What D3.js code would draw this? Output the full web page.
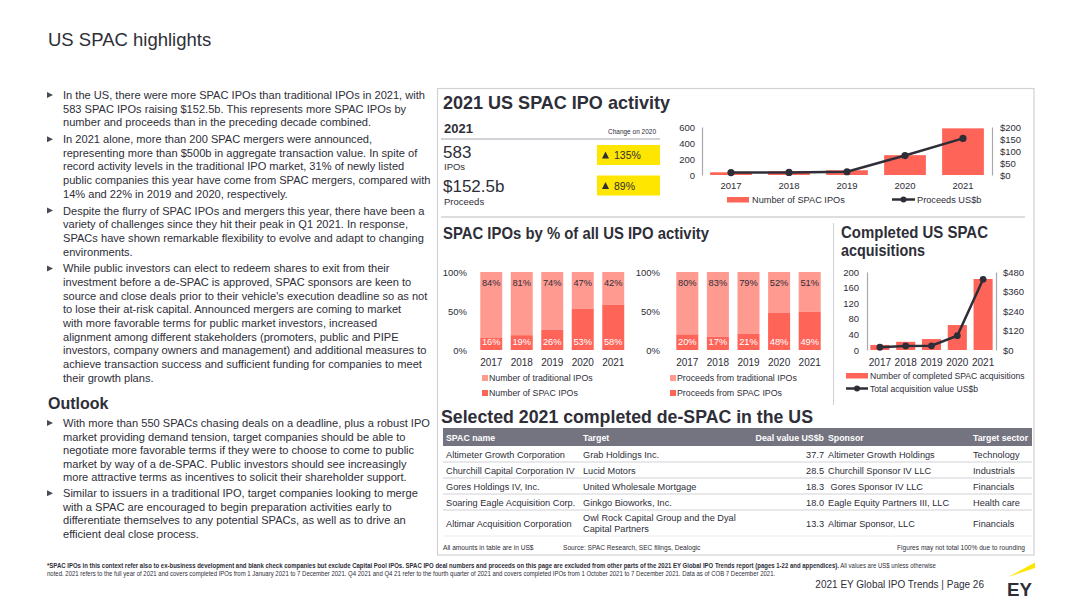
<!DOCTYPE html>
<html><head><meta charset="utf-8">
<script src="https://cdn.jsdelivr.net/npm/d3@7"></script>
<style>
html,body{margin:0;padding:0;background:#fff;}
svg{display:block;font-family:Arial,"Liberation Sans",Helvetica,sans-serif;}
</style></head><body>
<svg id="c" width="1080" height="608"></svg>
<script>
// ---------- DATA ----------
const years = ["2017","2018","2019","2020","2021"];
const spacIpoCount = [34, 46, 59, 248, 583];
const spacIpoProceeds = [10.1, 10.8, 13.6, 81, 152.5];
const leftTicksTop = [0, 200, 400, 600];
const rightTicksTop = [0, 50, 100, 150, 200];

const pctNumberSpac = [16, 19, 26, 53, 58];
const pctNumberTrad = [84, 81, 74, 47, 42];
const pctProceedsSpac = [20, 17, 21, 48, 49];
const pctProceedsTrad = [80, 83, 79, 52, 51];
const pctTicks = [0, 50, 100];

const completedCount = [13, 21, 28, 64, 182];
const completedValue = [17, 25, 26, 88, 435];
const leftTicksCompleted = [0, 40, 80, 120, 160, 200];
const rightTicksCompleted = [0, 120, 240, 360, 480];

const tableHeaders = ["SPAC name", "Target", "Deal value US$b", "Sponsor", "Target sector"];
const spacNames = ["Altimeter Growth Corporation", "Churchill Capital Corporation IV", "Gores Holdings IV, Inc.", "Soaring Eagle Acquisition Corp.", "Altimar Acquisition Corporation"];
const targets = [["Grab Holdings Inc."], ["Lucid Motors"], ["United Wholesale Mortgage"], ["Ginkgo Bioworks, Inc."], ["Owl Rock Capital Group and the Dyal", "Capital Partners"]];
const dealValues = [37.7, 28.5, 18.3, 18.0, 13.3];
const sponsors = ["Altimeter Growth Holdings", "Churchill Sponsor IV LLC", "\u00A0Gores Sponsor IV LLC", "Eagle Equity Partners III, LLC", "Altimar Sponsor, LLC"];
const sectors = ["Technology", "Industrials", "Financials", "Health care", "Financials"];

const bodyBullets = [
 ["In the US, there were more SPAC IPOs than traditional IPOs in 2021, with",
  "583 SPAC IPOs raising $152.5b. This represents more SPAC IPOs by",
  "number and proceeds than in the preceding decade combined."],
 ["In 2021 alone, more than 200 SPAC mergers were announced,",
  "representing more than $500b in aggregate transaction value. In spite of",
  "record activity levels in the traditional IPO market, 31% of newly listed",
  "public companies this year have come from SPAC mergers, compared with",
  "14% and 22% in 2019 and 2020, respectively."],
 ["Despite the flurry of SPAC IPOs and mergers this year, there have been a",
  "variety of challenges since they hit their peak in Q1 2021. In response,",
  "SPACs have shown remarkable flexibility to evolve and adapt to changing",
  "environments."],
 ["While public investors can elect to redeem shares to exit from their",
  "investment before a de-SPAC is approved, SPAC sponsors are keen to",
  "source and close deals prior to their vehicle's execution deadline so as not",
  "to lose their at-risk capital. Announced mergers are coming to market",
  "with more favorable terms for public market investors, increased",
  "alignment among different stakeholders (promoters, public and PIPE",
  "investors, company owners and management) and additional measures to",
  "achieve transaction success and sufficient funding for companies to meet",
  "their growth plans."]
];
const outlookBullets = [
 ["With more than 550 SPACs chasing deals on a deadline, plus a robust IPO",
  "market providing demand tension, target companies should be able to",
  "negotiate more favorable terms if they were to choose to come to public",
  "market by way of a de-SPAC. Public investors should see increasingly",
  "more attractive terms as incentives to solicit their shareholder support."],
 ["Similar to issuers in a traditional IPO, target companies looking to merge",
  "with a SPAC are encouraged to begin preparation activities early to",
  "differentiate themselves to any potential SPACs, as well as to drive an",
  "efficient deal close process."]
];

// ---------- STYLE ----------
const DARK = "#2e2e38", RED = "#ff6459", PALE = "#ff9a91", LINEC = "#d2d2d6",
      YELLOW = "#ffe600", HEAD = "#747480", AXIS = "#a8a8ae";

const svg = d3.select("#c");
svg.append("rect").attr("width", 1080).attr("height", 608).attr("fill", "#fff");

function fit(sel, w) { sel.attr("textLength", w).attr("lengthAdjust", "spacingAndGlyphs"); return sel; }

// ---------- PAGE TITLE ----------
svg.append("text").attr("x", 48).attr("y", 46).attr("font-size", 18.5)
  .attr("fill", DARK).text("US SPAC highlights");

// ---------- LEFT BODY ----------
const bodyNodes = [];
function drawBullets(groups, startY, step, gap) {
  let y = startY;
  groups.forEach((lines) => {
    svg.append("path").attr("d", `M47,${y - 3}L53,${y}L47,${y + 3}Z`).attr("fill", "#4a4a55");
    lines.forEach((ln) => {
      const t = svg.append("text").attr("x", 63).attr("y", y).attr("dominant-baseline", "central")
        .attr("font-size", 11.5).attr("fill", DARK).text(ln);
      bodyNodes.push(t);
      y += step;
    });
    y += gap;
  });
}
drawBullets(bodyBullets, 95, 13.65, 3.2);
svg.append("text").attr("x", 48).attr("y", 403).attr("dominant-baseline", "central")
  .attr("font-size", 16).attr("font-weight", "bold").attr("fill", DARK).text("Outlook");
drawBullets(outlookBullets, 423, 13.55, 2.4);
const k = 362 / bodyNodes[0].node().getComputedTextLength();
bodyNodes.forEach(t => { const w = t.node().getComputedTextLength(); fit(t, w * k); });

// ---------- RIGHT PANEL FRAME ----------
svg.append("rect").attr("x", 437.5).attr("y", 88.5).attr("width", 596.5).attr("height", 466.5)
  .attr("fill", "none").attr("stroke", LINEC).attr("stroke-width", 1.2);
svg.append("line").attr("x1", 441).attr("x2", 1025).attr("y1", 217).attr("y2", 217)
  .attr("stroke", LINEC).attr("stroke-width", 1.5);
svg.append("line").attr("x1", 833.5).attr("x2", 833.5).attr("y1", 223).attr("y2", 405)
  .attr("stroke", LINEC).attr("stroke-width", 1);

// ---------- 2021 US SPAC IPO activity ----------
fit(svg.append("text").attr("x", 443).attr("y", 109).attr("font-size", 18.5).attr("font-weight", "bold")
  .attr("fill", DARK).text("2021 US SPAC IPO activity"), 227);
svg.append("text").attr("x", 444).attr("y", 133).attr("font-size", 13).attr("font-weight", "bold")
  .attr("fill", DARK).text("2021");
fit(svg.append("text").attr("x", 608).attr("y", 134).attr("font-size", 7).attr("fill", DARK)
  .text("Change on 2020"), 48);
svg.append("line").attr("x1", 441).attr("x2", 660).attr("y1", 139).attr("y2", 139)
  .attr("stroke", LINEC).attr("stroke-width", 2);
svg.append("text").attr("x", 443).attr("y", 158).attr("font-size", 17).attr("fill", DARK).text("583");
svg.append("text").attr("x", 444).attr("y", 170).attr("font-size", 9.5).attr("fill", DARK).text("IPOs");
svg.append("text").attr("x", 443).attr("y", 192).attr("font-size", 17).attr("fill", DARK).text("$152.5b");
svg.append("text").attr("x", 444).attr("y", 205).attr("font-size", 9.5).attr("fill", DARK).text("Proceeds");
[[145, "135%"], [175.5, "89%"]].forEach(([y, v]) => {
  svg.append("rect").attr("x", 597).attr("y", y).attr("width", 63).attr("height", 20).attr("fill", YELLOW);
  svg.append("path").attr("d", `M602,${y + 13.5}L605.5,${y + 6.5}L609,${y + 13.5}Z`).attr("fill", DARK);
  svg.append("text").attr("x", 614).attr("y", y + 10).attr("dominant-baseline", "central")
    .attr("font-size", 10.5).attr("fill", DARK).text(v);
});

// combo chart
const xT = d3.scaleBand().domain(years).range([702, 992]).paddingInner(0.28).paddingOuter(0.14);
const yTL = d3.scaleLinear().domain([0, 600]).range([175, 127]);
const yTR = d3.scaleLinear().domain([0, 200]).range([175, 127]);
const gT = svg.append("g");
gT.selectAll("rect.b").data(years).join("rect").attr("class", "b")
  .attr("x", d => xT(d)).attr("width", xT.bandwidth())
  .attr("y", (d, i) => yTL(spacIpoCount[i])).attr("height", (d, i) => yTL(0) - yTL(spacIpoCount[i]))
  .attr("fill", RED);
function styleAxis(g, fs) {
  g.selectAll("text").attr("font-size", fs).attr("fill", DARK).attr("font-family", "Arial, 'Liberation Sans', sans-serif");
  g.select(".domain").attr("stroke", AXIS).attr("stroke-width", 1.2);
}
gT.append("g").attr("transform", "translate(702,0)")
  .call(d3.axisLeft(yTL).tickValues(leftTicksTop).tickSize(0).tickSizeOuter(0).tickPadding(7))
  .call(g => styleAxis(g, 9.5));
gT.append("g").attr("transform", "translate(992,0)")
  .call(d3.axisRight(yTR).tickValues(rightTicksTop).tickFormat(d => "$" + d).tickSize(0).tickSizeOuter(0).tickPadding(8))
  .call(g => styleAxis(g, 9.5));
gT.append("g").attr("transform", "translate(0,175)")
  .call(d3.axisBottom(xT).tickSize(0).tickPadding(7.5))
  .call(g => { styleAxis(g, 9.5); g.select(".domain").remove(); });
const lineT = d3.line().x((d, i) => xT(years[i]) + xT.bandwidth() / 2).y(d => yTR(d));
gT.append("path").datum(spacIpoProceeds).attr("d", lineT).attr("fill", "none")
  .attr("stroke", DARK).attr("stroke-width", 2.5);
gT.selectAll("circle").data(spacIpoProceeds).join("circle")
  .attr("cx", (d, i) => xT(years[i]) + xT.bandwidth() / 2).attr("cy", d => yTR(d)).attr("r", 3.6).attr("fill", DARK);
// legend
gT.append("rect").attr("x", 727).attr("y", 197).attr("width", 22).attr("height", 5.5).attr("fill", RED);
gT.append("text").attr("x", 752).attr("y", 200).attr("dominant-baseline", "central").attr("font-size", 9.2)
  .attr("fill", DARK).text("Number of SPAC IPOs");
gT.append("line").attr("x1", 892).attr("x2", 915).attr("y1", 199.5).attr("y2", 199.5).attr("stroke", DARK).attr("stroke-width", 2.5);
gT.append("circle").attr("cx", 903.5).attr("cy", 199.5).attr("r", 3).attr("fill", DARK);
gT.append("text").attr("x", 917).attr("y", 200).attr("dominant-baseline", "central").attr("font-size", 9.2)
  .attr("fill", DARK).text("Proceeds US$b");

// ---------- SPAC IPOs by % ----------
fit(svg.append("text").attr("x", 443).attr("y", 239).attr("font-size", 16.5).attr("font-weight", "bold")
  .attr("fill", DARK).text("SPAC IPOs by % of all US IPO activity"), 266);

function pctChart(x0, x1, axisX, spac, trad, legend, legX) {
  const x = d3.scaleBand().domain(years).range([x0, x1]).paddingInner(0.28).paddingOuter(0.14);
  const y = d3.scaleLinear().domain([0, 100]).range([350, 272]);
  const g = svg.append("g");
  g.selectAll("rect.t").data(years).join("rect").attr("class", "t")
    .attr("x", d => x(d)).attr("width", x.bandwidth())
    .attr("y", (d, i) => y(spac[i] + trad[i])).attr("height", (d, i) => y(spac[i]) - y(spac[i] + trad[i]))
    .attr("fill", PALE);
  g.selectAll("rect.s").data(years).join("rect").attr("class", "s")
    .attr("x", d => x(d)).attr("width", x.bandwidth())
    .attr("y", (d, i) => y(spac[i])).attr("height", (d, i) => y(0) - y(spac[i]))
    .attr("fill", RED);
  g.selectAll("text.tl").data(trad).join("text").attr("class", "tl")
    .attr("x", (d, i) => x(years[i]) + x.bandwidth() / 2).attr("y", y(100) + 10.5)
    .attr("text-anchor", "middle").attr("dominant-baseline", "central").attr("font-size", 9.3)
    .attr("fill", DARK).text(d => d + "%");
  g.selectAll("text.sl").data(spac).join("text").attr("class", "sl")
    .attr("x", (d, i) => x(years[i]) + x.bandwidth() / 2).attr("y", y(0) - 8)
    .attr("text-anchor", "middle").attr("dominant-baseline", "central").attr("font-size", 9.3)
    .attr("fill", "#fff").text(d => d + "%");
  g.append("g").attr("transform", `translate(${axisX},0)`)
    .call(d3.axisLeft(y).tickValues(pctTicks).tickFormat(d => d + "%").tickSize(0).tickPadding(0))
    .call(gg => { styleAxis(gg, 9.5); gg.select(".domain").remove(); });
  g.append("g").attr("transform", "translate(0,350)")
    .call(d3.axisBottom(x).tickSize(0).tickPadding(8.5))
    .call(gg => { styleAxis(gg, 10); gg.select(".domain").remove(); });
  [[PALE, legend[0], 378], [RED, legend[1], 393]].forEach(([c, t, yy]) => {
    g.append("rect").attr("x", legX).attr("y", yy - 3).attr("width", 6).attr("height", 6).attr("fill", c);
    g.append("text").attr("x", legX + 7).attr("y", yy).attr("dominant-baseline", "central")
      .attr("font-size", 8.8).attr("fill", DARK).text(t);
  });
}
pctChart(476, 628.5, 467, pctNumberSpac, pctNumberTrad, ["Number of traditional IPOs", "Number of SPAC IPOs"], 482);
pctChart(672, 825, 660, pctProceedsSpac, pctProceedsTrad, ["Proceeds from traditional IPOs", "Proceeds from SPAC IPOs"], 670);

// ---------- Completed US SPAC acquisitions ----------
fit(svg.append("text").attr("x", 841).attr("y", 238).attr("font-size", 16.5).attr("font-weight", "bold")
  .attr("fill", DARK).text("Completed US SPAC"), 147);
fit(svg.append("text").attr("x", 841).attr("y", 256).attr("font-size", 16.5).attr("font-weight", "bold")
  .attr("fill", DARK).text("acquisitions"), 84);
const xC = d3.scaleBand().domain(years).range([867, 996]).paddingInner(0.26).paddingOuter(0.13);
const yCL = d3.scaleLinear().domain([0, 200]).range([350, 272]);
const yCR = d3.scaleLinear().domain([0, 480]).range([350, 272]);
const gC = svg.append("g");
gC.selectAll("rect").data(years).join("rect")
  .attr("x", d => xC(d)).attr("width", xC.bandwidth())
  .attr("y", (d, i) => yCL(completedCount[i])).attr("height", (d, i) => yCL(0) - yCL(completedCount[i]))
  .attr("fill", RED);
gC.append("g").attr("transform", "translate(867,0)")
  .call(d3.axisLeft(yCL).tickValues(leftTicksCompleted).tickSize(0).tickSizeOuter(0).tickPadding(8))
  .call(g => styleAxis(g, 9.5));
gC.append("g").attr("transform", "translate(996,0)")
  .call(d3.axisRight(yCR).tickValues(rightTicksCompleted).tickFormat(d => "$" + d).tickSize(0).tickSizeOuter(0).tickPadding(7))
  .call(g => styleAxis(g, 9.5));
gC.append("g").attr("transform", "translate(0,350)")
  .call(d3.axisBottom(xC).tickSize(0).tickPadding(8.5))
  .call(g => { styleAxis(g, 10); g.select(".domain").remove(); });
const lineC = d3.line().x((d, i) => xC(years[i]) + xC.bandwidth() / 2).y(d => yCR(d));
gC.append("path").datum(completedValue).attr("d", lineC).attr("fill", "none")
  .attr("stroke", DARK).attr("stroke-width", 2.5);
gC.selectAll("circle").data(completedValue).join("circle")
  .attr("cx", (d, i) => xC(years[i]) + xC.bandwidth() / 2).attr("cy", d => yCR(d)).attr("r", 3.4).attr("fill", DARK);
gC.append("rect").attr("x", 846).attr("y", 373).attr("width", 22).attr("height", 5.5).attr("fill", RED);
gC.append("text").attr("x", 870).attr("y", 376).attr("dominant-baseline", "central").attr("font-size", 8.6)
  .attr("fill", DARK).text("Number of completed SPAC acquisitions");
gC.append("line").attr("x1", 846).attr("x2", 868).attr("y1", 388.5).attr("y2", 388.5).attr("stroke", DARK).attr("stroke-width", 2.5);
gC.append("circle").attr("cx", 857).attr("cy", 388.5).attr("r", 3).attr("fill", DARK);
gC.append("text").attr("x", 870).attr("y", 388.5).attr("dominant-baseline", "central").attr("font-size", 8.6)
  .attr("fill", DARK).text("Total acquisition value US$b");

// ---------- TABLE ----------
fit(svg.append("text").attr("x", 441).attr("y", 423).attr("font-size", 19).attr("font-weight", "bold")
  .attr("fill", DARK).text("Selected 2021 completed de-SPAC in the US"), 372);
svg.append("rect").attr("x", 443).attr("y", 428).attr("width", 589).attr("height", 18).attr("fill", HEAD);
const colX = [446, 583, 824, 828, 973];
const colAnchor = ["start", "start", "end", "start", "start"];
tableHeaders.forEach((h, i) => {
  svg.append("text").attr("x", colX[i]).attr("y", 437.5).attr("dominant-baseline", "central")
    .attr("text-anchor", colAnchor[i]).attr("font-size", 8.8).attr("font-weight", "bold")
    .attr("fill", "#fff").text(h);
});
const rowTop = [446, 462, 478, 494, 510];
const rowH = [16, 16, 16, 16, 26];
spacNames.forEach((s, i) => {
  const cy = rowTop[i] + rowH[i] / 2 + 0.5;
  const cells = [s, null, dealValues[i].toFixed(1), sponsors[i], sectors[i]];
  cells.forEach((c, j) => {
    if (j === 1) {
      const tl = targets[i];
      tl.forEach((ln, m) => {
        svg.append("text").attr("x", colX[1]).attr("y", cy + (m - (tl.length - 1) / 2) * 10.5)
          .attr("dominant-baseline", "central").attr("font-size", 9.2).attr("fill", DARK).text(ln);
      });
    } else {
      svg.append("text").attr("x", colX[j]).attr("y", cy).attr("dominant-baseline", "central")
        .attr("text-anchor", colAnchor[j]).attr("font-size", 9.2).attr("fill", DARK).text(c);
    }
  });
  svg.append("line").attr("x1", 443).attr("x2", 1032).attr("y1", rowTop[i] + rowH[i]).attr("y2", rowTop[i] + rowH[i])
    .attr("stroke", i === 4 ? "#ececef" : LINEC).attr("stroke-width", 1);
});
svg.append("text").attr("x", 443).attr("y", 547).attr("dominant-baseline", "central").attr("font-size", 6.6)
  .attr("fill", DARK).text("All amounts in table are in US$");
svg.append("text").attr("x", 563).attr("y", 547).attr("dominant-baseline", "central").attr("font-size", 6.6)
  .attr("fill", DARK).text("Source: SPAC Research, SEC filings, Dealogic");
svg.append("text").attr("x", 1025).attr("y", 547).attr("dominant-baseline", "central").attr("text-anchor", "end")
  .attr("font-size", 6.6).attr("fill", DARK).text("Figures may not total 100% due to rounding");

// ---------- FOOTNOTE ----------
const fn1 = svg.append("text").attr("x", 47).attr("y", 565).attr("dominant-baseline", "central")
  .attr("font-size", 6.5).attr("fill", DARK);
fn1.append("tspan").attr("font-weight", "bold").text("*SPAC IPOs in this context refer also to ex-business development and blank check companies but exclude Capital Pool IPOs. SPAC IPO deal numbers and proceeds on this page are excluded from other parts of the 2021 EY Global IPO Trends report (pages 1-22 and appendices).");
fn1.append("tspan").text(" All values are US$ unless otherwise");
const fn2 = svg.append("text").attr("x", 47).attr("y", 573.5).attr("dominant-baseline", "central")
  .attr("font-size", 6.5).attr("fill", DARK)
  .text("noted. 2021 refers to the full year of 2021 and covers completed IPOs from 1 January 2021 to 7 December 2021. Q4 2021 and Q4 21 refer to the fourth quarter of 2021 and covers completed IPOs from 1 October 2021 to 7 December 2021. Data as of COB 7 December 2021.");
(function () {
  const w1 = fn1.node().getComputedTextLength();
  const kk = 890 / w1;
  fn1.attr("transform", `translate(47,0) scale(${kk},1) translate(-47,0)`);
  fn2.attr("transform", `translate(47,0) scale(${kk},1) translate(-47,0)`);
})();

svg.append("text").attr("x", 984).attr("y", 588).attr("text-anchor", "end").attr("font-size", 10)
  .attr("fill", DARK).text("2021 EY Global IPO Trends | Page 26");
// EY logo
svg.append("path").attr("d", "M1008,577L1035,562.5L1035,568Z").attr("fill", YELLOW);
fit(svg.append("text").attr("x", 1007).attr("y", 595.5).attr("font-size", 19).attr("font-weight", "bold")
  .attr("fill", DARK).text("EY"), 25);
</script></body></html>
